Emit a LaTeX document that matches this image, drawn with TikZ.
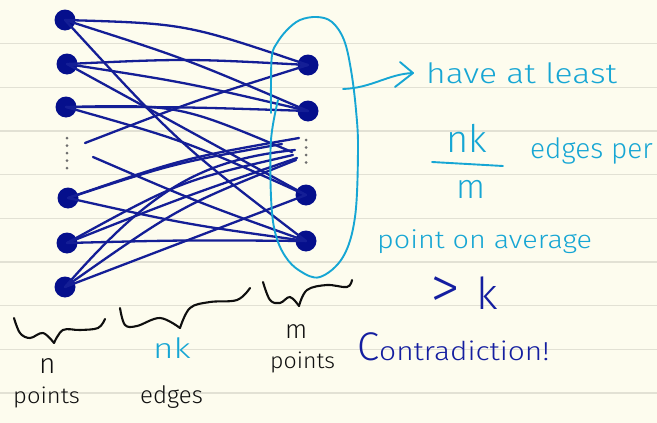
\documentclass[tikz,border=0pt]{standalone}
\usepackage{fontspec}
\setmainfont{Fira Sans}[UprightFont={* Light}]
\usetikzlibrary{calc}
\definecolor{paper}{RGB}{253,252,238}
\definecolor{rulec}{RGB}{226,225,212}
\definecolor{hcyan}{RGB}{22,166,212}
\definecolor{eblue}{RGB}{20,30,150}
\definecolor{nblue}{RGB}{5,15,140}
\definecolor{tblue}{RGB}{20,30,160}
\definecolor{hblack}{RGB}{15,15,15}
\definecolor{dotgray}{RGB}{110,110,110}
\tikzset{
  rulel/.style={rulec, line width=1.3pt},
  vertex/.style={circle, fill=nblue, inner sep=0pt, minimum size=21pt},
  edge/.style={eblue, line width=2.3pt, line cap=round},
  loopline/.style={hcyan, line width=1.9pt, line cap=round, line join=round},
  bracel/.style={hblack, line width=2.1pt, line cap=round, line join=round},
  vdots/.style={dotgray, line width=3pt, line cap=round, dash pattern=on 0pt off 7.5pt},
  txt/.style={inner sep=0pt, anchor=base west},
}
\newcommand{\fs}[1]{\fontsize{#1}{#1}\selectfont}
\begin{document}
\begin{tikzpicture}[x=1pt,y=-1pt]
\fill[paper] (0,0) rectangle (657,423);
\useasboundingbox (0,0) rectangle (657,423);
\foreach \k in {0,...,8} \draw[rulel] (0,{43.5+43.7*\k}) -- (657,{43.5+43.7*\k});

% vertices
\node[vertex] (L1) at (65,20) {};
\node[vertex] (L2) at (67,64) {};
\node[vertex] (L3) at (66,107) {};
\node[vertex] (L4) at (68,198) {};
\node[vertex] (L5) at (67,243) {};
\node[vertex] (L6) at (65,287) {};
\node[vertex] (R1) at (308,65) {};
\node[vertex] (R2) at (308,111) {};
\node[vertex] (R3) at (306,195) {};
\node[vertex] (R4) at (306,241) {};

% free ends
\coordinate (dl1) at (85,143);
\coordinate (dl2) at (93,157);
\coordinate (ra) at (299,138);
\coordinate (rb) at (282,144);
\coordinate (rc) at (292,152);
\coordinate (rd) at (293,155);
\coordinate (re) at (297,158);
\coordinate (rf) at (295,150);
\coordinate (rg) at (296,160);

% edges
\draw[edge] (L1.center) .. controls (185.5,23.5) .. (R1.center);
\draw[edge] (L1.center) .. controls (185.5,58.5) .. (R2.center);
\draw[edge] (L1.center) .. controls (178.5,143.5) .. (R4.center);
\draw[edge] (L2.center) .. controls (186.5,58.5) .. (R1.center);
\draw[edge] (L2.center) .. controls (186.5,82.5) .. (R2.center);
\draw[edge] (L2.center) -- (R3.center);
\draw[edge] (L3.center) .. controls (187,107) .. (R2.center);
\draw[edge] (L3.center) .. controls (179,104.5) .. (rc);
\draw[edge] (L3.center) .. controls (186,141) .. (R3.center);
\draw[edge] (dl1) .. controls (196.5,100) .. (R1.center);
\draw[edge] (dl2) .. controls (199.5,203) .. (R4.center);
\draw[edge] (L4.center) .. controls (184.5,158) .. (ra);
\draw[edge] (L4.center) .. controls (175,163) .. (rb);
\draw[edge] (L4.center) .. controls (187,224.5) .. (R4.center);
\draw[edge] (L5.center) .. controls (186.5,240) .. (R4.center);
\draw[edge] (L5.center) .. controls (180,181) .. (rd);
\draw[edge] (L5.center) .. controls (182,197.5) .. (re);
\draw[edge] (L6.center) .. controls (150,190) and (200,160) .. (rf);
\draw[edge] (L6.center) -- (R3.center);
\draw[edge] (L6.center) .. controls (179.5,206.5) .. (rg);

% dots
\draw[vdots] (67,138) -- (67,170);
\draw[vdots] (306,140) -- (306,164);

% loop around right points
\draw[loopline] plot[smooth, tension=0.6] coordinates {(271,113) (271,83) (272,55) (277,43) (287,30) (300,20) (317,17) (332,22) (344,40) (351,70) (356,110) (358,150) (355,217) (343,257) (320,277) (300,271) (285,256) (275,232) (271,197) (271,140) (278,100)};

% arrow
\coordinate (arrS) at (343,89);
\coordinate (arrT) at (413,73);
\draw[loopline] (arrS) .. controls (372,88) and (388,74) .. (arrT);
\draw[loopline] ($(arrT)+(-13,-11)$) -- (arrT) -- ($(arrT)+(-18,14)$);

% braces
\draw[bracel] plot[smooth, tension=0.6] coordinates {(14,318) (20,333) (30,338) (43,333) (54,343)};
\draw[bracel] plot[smooth, tension=0.6] coordinates {(54,343) (63,330) (80,330) (98,328) (105,319)};
\draw[bracel] plot[smooth, tension=0.6] coordinates {(120,308) (125,325) (137,326) (160,318) (180,328)};
\draw[bracel] plot[smooth, tension=0.6] coordinates {(180,328) (190,308) (210,302) (237,300) (250,288)};
\draw[bracel] plot[smooth, tension=0.6] coordinates {(263,282) (270,300) (280,303) (290,297) (299,306)};
\draw[bracel] plot[smooth, tension=0.6] coordinates {(299,306) (307,290) (327,285) (347,287) (352,280)};

% texts
\node[txt, hcyan] (t1) at (426,83) {\fs{28}\scalebox{1.2}[1]{have at least}};
\node[txt, hcyan] (t2) at (446,152) {\fs{38}nk};
\coordinate (fb1) at (432,162);
\coordinate (fb2) at (503,166);
\draw[loopline] (fb1) -- (fb2);
\node[txt, hcyan] (t3) at (456,198) {\fs{34}m};
\node[txt, hcyan] (t4) at (530,158) {\fs{28}edges per};
\node[txt, hcyan] (t5) at (377,248) {\fs{25}\scalebox{1.15}[1]{point on average}};
\node[txt, tblue] (t6) at (430,308) {\fs{40}\scalebox{1.5}{>}};
\node[txt, tblue] (t7) at (476,309) {\fs{44}k};
\node[txt, tblue] (t8) at (357,360) {\fs{40}C\fs{26}\scalebox{1.15}[1]{ontradiction!}};
\node[txt, hblack] (t9) at (39,373) {\fs{28}n};
\node[txt, hblack] (t10) at (13,403) {\fs{22}\scalebox{1.08}[1]{points}};
\node[txt, hcyan] (t11) at (153,358) {\fs{28}\scalebox{1.25}[1]{nk}};
\node[txt, hblack] (t12) at (140,403) {\fs{24}edges};
\node[txt, hblack] (t13) at (285,338) {\fs{26}m};
\node[txt, hblack] (t14) at (270,368) {\fs{22}\scalebox{1.05}[1]{points}};
\end{tikzpicture}
\end{document}
